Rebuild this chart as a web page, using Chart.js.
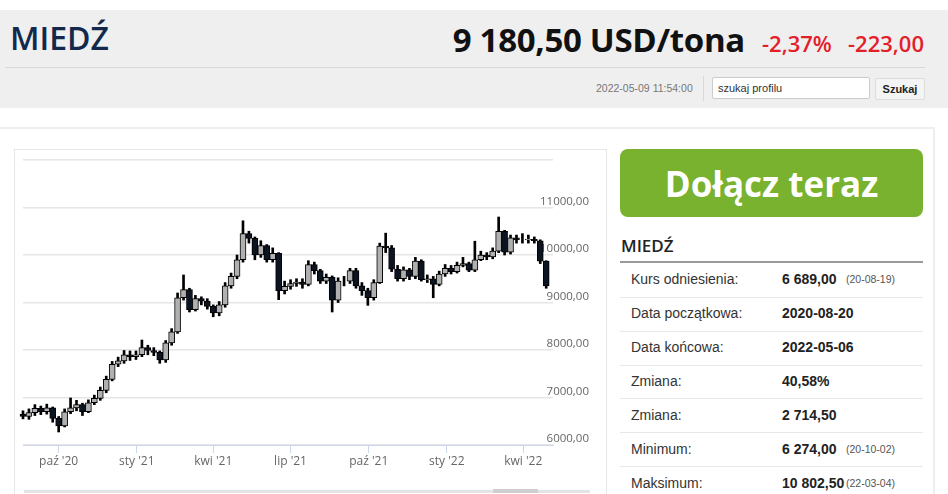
<!DOCTYPE html>
<html>
<head>
<meta charset="utf-8">
<script src="https://cdn.jsdelivr.net/npm/chart.js@4.4.0/dist/chart.umd.min.js"></script>
<style>
body{margin:0;width:948px;height:494px;overflow:hidden;position:relative;background:#fff;font-family:"Open Sans",sans-serif}
.a{position:absolute;white-space:nowrap;line-height:1}
.arial{font-family:"Liberation Sans",Arial,sans-serif}
.sep{position:absolute;left:620px;width:303px;height:1px;background:#e8e8e8}
.lbl{left:631px;font-size:14px;color:#333}
.val{left:782px;font-size:14px;font-weight:bold;color:#222}
.dt{left:846px;font-size:10.5px;color:#555}
</style>
</head>
<body>
<div class="a" style="left:0;top:10px;width:948px;height:98px;background:#efefef"></div>
<div class="a" style="left:10px;top:22px;font-size:32px;font-weight:600;color:#13294b">MIEDŹ</div>
<div class="a" style="right:203px;top:23px;font-size:33px;font-weight:700;color:#111;letter-spacing:-0.3px">9 180,50 USD/tona</div>
<div class="a" style="left:762px;top:32px;font-size:22px;font-weight:600;color:#e3202a">-2,37%</div>
<div class="a" style="left:848px;top:32px;font-size:22px;font-weight:600;color:#e3202a">-223,00</div>
<div class="a" style="left:5px;top:67px;width:920px;height:1px;background:#d8d8d8"></div>
<div class="a arial" style="left:596px;top:83px;font-size:10.5px;color:#777">2022-05-09 11:54:00</div>
<div class="a" style="left:703px;top:76px;width:1px;height:25px;background:#d8d8d8"></div>
<div class="a arial" style="left:712px;top:77px;width:151px;height:20px;background:#fff;border:1px solid #ccc;border-radius:2px;font-size:11px;color:#333;padding-left:5px;line-height:20px">szukaj profilu</div>
<div class="a arial" style="left:875px;top:78px;width:48px;height:20px;background:#f4f4f4;border:1px solid #dcdcdc;border-radius:2px;font-size:11px;font-weight:bold;color:#222;text-align:center;line-height:20px">Szukaj</div>

<div class="a" style="left:0;top:127px;width:933px;height:380px;border-top:2px solid #eeeeee;border-right:2px solid #eeeeee"></div>
<div class="a" style="left:14px;top:149px;width:591px;height:360px;border:1px solid #e6e6e6"></div>
<canvas id="copperChart" width="591" height="344" style="position:absolute;left:15px;top:150px"></canvas>
<div class="a" style="left:24px;top:490px;width:566px;height:3px;background:#e4e4e4"></div>
<div class="a" style="left:493px;top:489px;width:45px;height:4px;background:#cfcfcf"></div>

<div class="a" style="left:620px;top:149px;width:303px;height:68px;background:#78b22e;border-radius:8px;color:#fff;font-size:35px;font-weight:700;display:flex;align-items:center;justify-content:center">Dołącz teraz</div>
<div class="a" style="left:621px;top:237px;font-size:17px;font-weight:600;color:#222">MIEDŹ</div>
<div class="a" style="left:620px;top:261px;width:303px;height:2px;background:#9a9a9a"></div>

<div class="a arial lbl" style="top:272px">Kurs odniesienia:</div>
<div class="a arial val" style="top:272px">6 689,00</div>
<div class="a arial dt" style="top:274px">(20-08-19)</div>
<div class="sep" style="top:297px"></div>
<div class="a arial lbl" style="top:306px">Data początkowa:</div>
<div class="a arial val" style="top:306px">2020-08-20</div>
<div class="sep" style="top:331px"></div>
<div class="a arial lbl" style="top:340px">Data końcowa:</div>
<div class="a arial val" style="top:340px">2022-05-06</div>
<div class="sep" style="top:365px"></div>
<div class="a arial lbl" style="top:374px">Zmiana:</div>
<div class="a arial val" style="top:374px">40,58%</div>
<div class="sep" style="top:398px"></div>
<div class="a arial lbl" style="top:408px">Zmiana:</div>
<div class="a arial val" style="top:408px">2 714,50</div>
<div class="sep" style="top:432px"></div>
<div class="a arial lbl" style="top:442px">Minimum:</div>
<div class="a arial val" style="top:442px">6 274,00</div>
<div class="a arial dt" style="top:444px">(20-10-02)</div>
<div class="sep" style="top:466px"></div>
<div class="a arial lbl" style="top:476px">Maksimum:</div>
<div class="a arial val" style="top:476px">10 802,50</div>
<div class="a arial dt" style="top:478px">(22-03-04)</div>

<script>
// weekly candles (USD/tona)
const startDate = '2020-08-20';
const endDate = '2022-05-06';
const opens = [6650,6600,6680,6770,6700,6780,6560,6400,6700,6780,6850,6700,6890,6980,7150,7380,7700,7770,7900,7860,7900,8050,7990,7950,7790,8150,8380,9100,9270,8850,9080,9030,8920,8780,8950,9350,9550,9900,10450,10350,10000,10200,9900,10035,9250,9340,9400,9430,9380,9800,9670,9450,9530,9050,9450,9450,9670,9350,9250,9100,9420,10190,10150,9700,9500,9690,9550,9870,9480,9500,9380,9600,9720,9650,9780,9820,9680,9900,10000,9960,10080,10500,10060,10360,10320,10320,10330,10300,9870];
const highs = [6720,6760,6850,6820,6860,6800,6600,6760,6990,6940,6880,6950,7050,7220,7450,7760,7850,7990,7980,7980,8210,8100,8050,7980,8200,8450,9200,9580,9300,9150,9120,9080,8950,9020,9420,9620,10000,10720,10500,10380,10300,10220,10150,10050,9450,9480,9500,9500,9880,9850,9700,9600,9560,9520,9550,9720,9720,9420,9300,9480,10250,10460,10200,9780,9750,9720,9950,9900,9580,9550,9660,9800,9780,9850,9950,9850,10290,10080,10050,10150,10800,10520,10420,10420,10450,10420,10380,10320,9880];
const lows = [6550,6540,6620,6640,6650,6480,6274,6380,6660,6720,6620,6680,6850,6940,7100,7350,7650,7720,7780,7800,7860,7900,7880,7720,7740,8100,8350,9050,8800,8820,8950,8860,8700,8720,8900,9300,9500,9850,10250,9900,9950,9850,9850,9060,9180,9280,9340,9300,9350,9600,9400,9400,8800,9000,9350,9400,9300,9150,8940,9050,9400,10050,9650,9450,9450,9480,9500,9450,9420,9100,9350,9550,9600,9620,9750,9650,9650,9880,9900,9920,10050,10000,10020,10250,10250,10250,10250,9820,9300];
const closes = [6600,6680,6770,6700,6780,6560,6400,6700,6780,6850,6700,6890,6980,7150,7380,7700,7770,7900,7860,7900,8050,7990,7950,7790,8150,8380,9100,9270,8850,9080,9030,8920,8780,8950,9350,9550,9900,10450,10350,10000,10200,9900,10035,9250,9340,9400,9430,9380,9800,9670,9450,9530,9050,9450,9450,9670,9350,9250,9100,9420,10190,10150,9700,9500,9690,9550,9870,9480,9500,9380,9600,9720,9650,9780,9820,9680,9900,10000,9960,10080,10500,10060,10360,10320,10320,10330,10300,9870,9350];
const tickDates = ['2020-10-01','2021-01-01','2021-04-01','2021-07-01','2021-10-01','2022-01-01','2022-04-01'];
const tickLabels = ["paź '20","sty '21","kwi '21","lip '21","paź '21","sty '22","kwi '22"];

const dayOf = s => Math.round((Date.parse(s) - Date.parse(startDate)) / 86400000);
const candleDays = closes.map((c, i) => i * 7); // one candle per week

let ctx = document.getElementById('copperChart').getContext('2d');
let copperChart = new Chart(ctx, {
  type: 'bar',
  data: {
    datasets: [{
      label: 'body',
      data: closes.map((c, i) => ({x: candleDays[i], y: [opens[i], c]})),
      backgroundColor: closes.map((c, i) => c >= opens[i] ? '#b0b0b0' : '#0b1420'),
      borderColor: '#000',
      borderWidth: 1,
      borderSkipped: false,
      barThickness: 6,
      grouped: false,
      clip: 6
    }, {
      label: 'wick',
      data: closes.map((c, i) => ({x: candleDays[i], y: [lows[i], highs[i]]})),
      backgroundColor: '#000',
      barThickness: 2,
      grouped: false,
      clip: 6
    }]
  },
  options: {
    responsive: false,
    animation: false,
    layout: {padding: {top: 10, left: 8, right: 0, bottom: 0}},
    plugins: {legend: {display: false}, tooltip: {enabled: false}},
    scales: {
      x: {
        type: 'linear',
        offset: false,
        min: 0,
        max: dayOf(endDate),
        afterBuildTicks: s => { s.ticks = tickDates.map(d => ({value: dayOf(d)})); },
        afterFit: s => { s.height = 49; },
        ticks: {
          callback: (v, i) => tickLabels[i],
          color: '#666',
          font: {family: 'Open Sans', size: 12},
          padding: 1,
          maxRotation: 0,
          autoSkip: false
        },
        grid: {drawOnChartArea: false, drawTicks: true, tickLength: 8, color: '#ccd6eb', offset: false},
        border: {color: '#ccd6eb', width: 1}
      },
      y: {
        position: 'right',
        min: 6000,
        max: 12000,
        afterFit: s => { s.width = 53; s.paddingTop = 0; s.paddingBottom = 0; },
        ticks: {
          stepSize: 1000,
          callback: v => v === 12000 ? '' : v.toFixed(2).replace('.', ','),
          color: '#666',
          font: {family: 'Open Sans', size: 11.5},
          mirror: true,
          padding: 36,
          labelOffset: -6
        },
        grid: {color: '#e6e6e6', lineWidth: 1.5, drawTicks: false},
        border: {display: false}
      }
    }
  }
});
</script>
</body>
</html>
